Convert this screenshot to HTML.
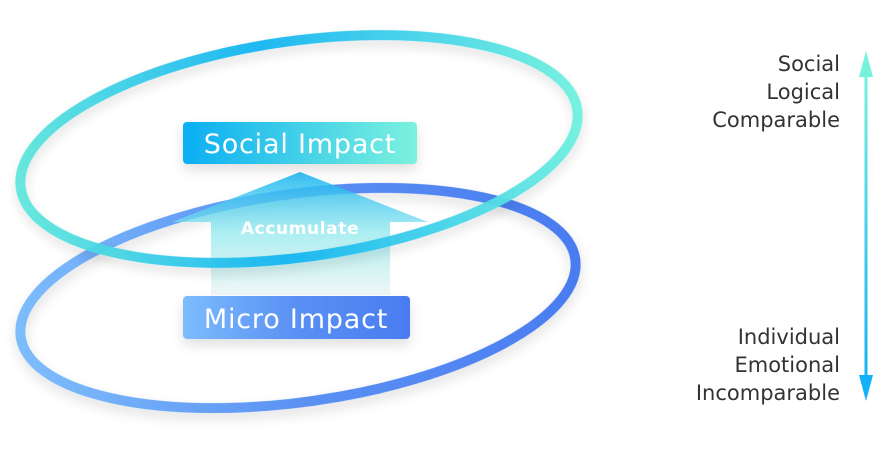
<!DOCTYPE html>
<html><head><meta charset="utf-8"><style>
html,body{margin:0;padding:0;background:#fff;}
body{width:873px;height:469px;overflow:hidden;font-family:"DejaVu Sans","Liberation Sans",sans-serif;}
</style></head><body>
<svg width="873" height="469" viewBox="0 0 873 469" xmlns="http://www.w3.org/2000/svg" font-family="DejaVu Sans, Liberation Sans, sans-serif">
<defs>
<linearGradient id="gTop" x1="0" y1="0" x2="1" y2="0">
<stop offset="0" stop-color="#5fe6dc"/><stop offset="0.45" stop-color="#14b4f2"/><stop offset="1" stop-color="#6ff0df"/>
</linearGradient>
<linearGradient id="gBot" x1="0" y1="0" x2="1" y2="0">
<stop offset="0" stop-color="#7cbcfb"/><stop offset="0.5" stop-color="#5a90f3"/><stop offset="1" stop-color="#4a7cf0"/>
</linearGradient>
<linearGradient id="gSoc" x1="0" y1="0" x2="1" y2="0">
<stop offset="0" stop-color="#0aaef2"/><stop offset="1" stop-color="#7cf2de"/>
</linearGradient>
<linearGradient id="gMic" x1="0" y1="0" x2="1" y2="0">
<stop offset="0" stop-color="#7cbcfd"/><stop offset="0.5" stop-color="#5a90f4"/><stop offset="1" stop-color="#4a7cf0"/>
</linearGradient>
<linearGradient id="gArr" x1="0" y1="0" x2="0" y2="1">
<stop offset="0" stop-color="#10b2f2" stop-opacity="0.95"/><stop offset="0.5" stop-color="#8ee8ec" stop-opacity="0.8"/><stop offset="1" stop-color="#e4f2f0" stop-opacity="0.7"/>
</linearGradient>
<linearGradient id="gAx" x1="0" y1="0" x2="0" y2="1">
<stop offset="0" stop-color="#76f2dc"/><stop offset="1" stop-color="#14b0f8"/>
</linearGradient>
<filter id="sh" x="-20%" y="-20%" width="140%" height="160%"><feDropShadow dx="0" dy="6" stdDeviation="6" flood-color="#000" flood-opacity="0.12"/></filter>
</defs>
<ellipse cx="298" cy="298" rx="280" ry="104" transform="rotate(-8 298 298)" fill="none" stroke="url(#gBot)" stroke-width="10" filter="url(#sh)"/>
<path d="M300 172 L172 222 L211 222 L211 295 L390 295 L390 222 L428 222 Z" fill="url(#gArr)" opacity="0.9"/>
<text x="300" y="234" text-anchor="middle" font-size="17" font-weight="bold" letter-spacing="0.6" fill="#fff">Accumulate</text>
<ellipse cx="299" cy="149" rx="281" ry="108" transform="rotate(-8 299 149)" fill="none" stroke="url(#gTop)" stroke-width="10" opacity="0.95" filter="url(#sh)"/>
<rect x="183" y="122" width="234" height="42" rx="4" fill="url(#gSoc)" filter="url(#sh)"/>
<text x="300" y="153" text-anchor="middle" font-size="27" letter-spacing="0.8" fill="#fff">Social Impact</text>
<rect x="183" y="296" width="227" height="43" rx="4" fill="url(#gMic)" filter="url(#sh)"/>
<text x="296" y="328" text-anchor="middle" font-size="27" letter-spacing="0.8" fill="#fff">Micro Impact</text>
<rect x="864.5" y="70" width="3" height="310" fill="url(#gAx)"/>
<polygon points="866,51 859,77 873,77" fill="#76f2dc"/>
<polygon points="866,401 859,375 873,375" fill="#14b0f8"/>
<g font-size="21" fill="#333" text-anchor="end">
<text x="840" y="71">Social</text><text x="840" y="99">Logical</text><text x="840" y="127">Comparable</text>
<text x="840" y="344">Individual</text><text x="840" y="372">Emotional</text><text x="840" y="400">Incomparable</text>
</g>
</svg>
</body></html>
